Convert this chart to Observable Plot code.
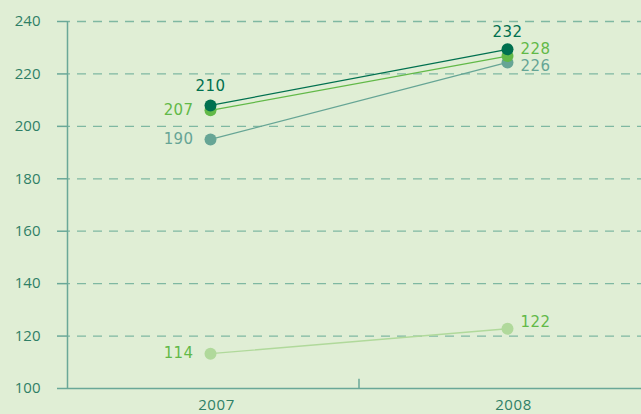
<!DOCTYPE html>
<html>
<head>
<meta charset="utf-8">
<script src="https://cdn.jsdelivr.net/npm/d3@7"></script>
<script src="https://cdn.jsdelivr.net/npm/@observablehq/plot@0.6"></script>
<style>
  html, body { margin: 0; padding: 0; background: #e0eed5; }
  svg { display: block; }
  .lab text { letter-spacing: 0.4px; }
  .yr text { letter-spacing: 0.6px; }
</style>
</head>
<body>
<div id="chart"></div>
<script>
const years = [2007, 2008];
const seriesNames = ["light", "grey", "green", "dark"];
// plotted positions
const lightValues = [113.3, 122.8];
const greyValues  = [195.0, 224.4];
const greenValues = [206.1, 226.8];
const darkValues  = [208.0, 229.4];
// printed labels
const lightLabels = ["114", "122"];
const greyLabels  = ["190", "226"];
const greenLabels = ["207", "228"];
const darkLabels  = ["210", "232"];
const yTicks = [100, 120, 140, 160, 180, 200, 220, 240];
const xDomain = [2006.5185, 2008.4512];

const colors = { light: "#b0d99b", grey: "#66a595", green: "#62b948", dark: "#00704f" };
const labelColors = { light: "#62b948", grey: "#66a595", green: "#62b948", dark: "#00704f" };

const valuesBy = { light: lightValues, grey: greyValues, green: greenValues, dark: darkValues };
const labelsBy = { light: lightLabels, grey: greyLabels, green: greenLabels, dark: darkLabels };

const data = seriesNames.flatMap(s => years.map((y, i) => ({
  series: s, year: y, value: valuesBy[s][i], label: labelsBy[s][i]
})));

const font = "Open Sans, Lato, sans-serif";
const labelFont = "DejaVu Sans, Verdana, sans-serif";
const axisColor = "#2f7f66";

function label(series, year, opts) {
  return Plot.text(data.filter(d => d.series === series && d.year === year), {
    x: "year", y: "value", text: "label", className: "lab",
    fill: labelColors[series], fontSize: 15, fontFamily: labelFont, ...opts
  });
}

const plot = Plot.plot({
  width: 641,
  height: 414,
  marginLeft: 67,
  marginRight: 0,
  marginTop: 21,
  marginBottom: 26,
  style: { background: "#e0eed5", fontFamily: font },
  x: { type: "linear", domain: xDomain, axis: null },
  y: { domain: [100, 240] },
  marks: [
    Plot.gridY(yTicks.filter(t => t > 100), { stroke: "#7fb8a2", strokeOpacity: 1, strokeWidth: 1.3, strokeDasharray: "9,7", strokeDashoffset: -10 }),
    Plot.axisY({ ticks: yTicks, tickSize: 10, tickPadding: 17, stroke: "#6aa898", strokeWidth: 1.5, fill: axisColor, fontSize: 15, label: null }),
    Plot.ruleY([100], { stroke: "#6aa898", strokeWidth: 1.5 }),
    Plot.ruleX([xDomain[0]], { y1: 100, y2: 240, stroke: "#6aa898", strokeWidth: 1.5 }),
    Plot.ruleX([(years[0] + years[1]) / 2], { y1: 100, y2: 103.5, stroke: "#6aa898", strokeWidth: 1.5 }),
    Plot.text(years, { x: d => d, y: 100, text: d => String(d), dy: 17, dx: 6, fill: axisColor, fontSize: 15, className: "yr" }),
    ...seriesNames.map(s => Plot.line(data.filter(d => d.series === s), {
      x: "year", y: "value", stroke: colors[s], strokeWidth: 1.3
    })),
    ...seriesNames.map(s => Plot.dot(data.filter(d => d.series === s), {
      x: "year", y: "value", fill: colors[s], r: 6
    })),
    label("dark", 2007, { dy: -19 }),
    label("dark", 2008, { dy: -17 }),
    label("green", 2007, { dx: -17, textAnchor: "end" }),
    label("grey", 2007, { dx: -17, textAnchor: "end" }),
    label("light", 2007, { dx: -17, textAnchor: "end" }),
    label("green", 2008, { dx: 13, dy: -7, textAnchor: "start" }),
    label("grey", 2008, { dx: 13, dy: 4, textAnchor: "start" }),
    label("light", 2008, { dx: 13, dy: -7, textAnchor: "start" })
  ]
});
document.getElementById("chart").appendChild(plot);
</script>
</body>
</html>
